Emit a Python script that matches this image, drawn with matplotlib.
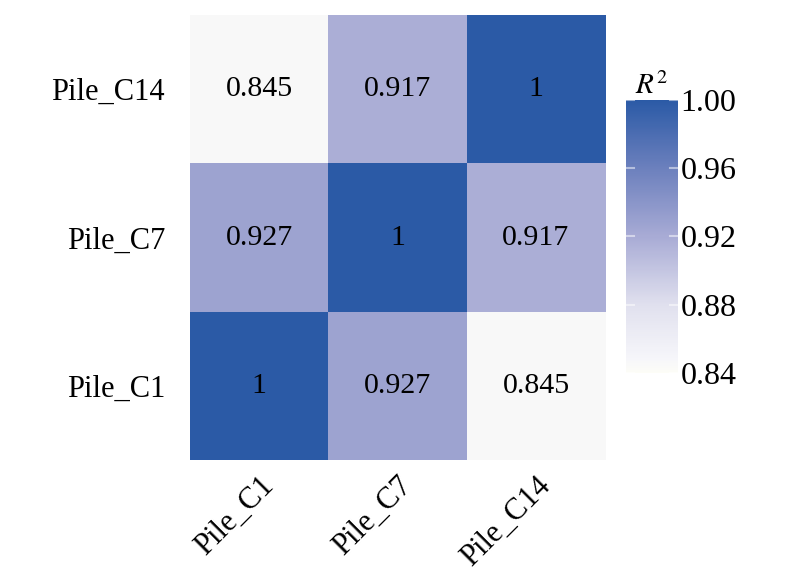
import matplotlib.pyplot as plt
import numpy as np
from matplotlib.colors import LinearSegmentedColormap

plt.rcParams['font.family'] = ['Liberation Serif', 'DejaVu Serif']
plt.rcParams['mathtext.fontset'] = 'stix'

piles = ["Pile_C1", "Pile_C7", "Pile_C14"]
r2 = np.array([[1.0, 0.927, 0.845],
               [0.927, 1.0, 0.917],
               [0.845, 0.917, 1.0]])
labels = [["1", "0.927", "0.845"],
          ["0.927", "1", "0.917"],
          ["0.845", "0.917", "1"]]
cbar_ticks = [0.84, 0.88, 0.92, 0.96, 1.00]

cmap = LinearSegmentedColormap.from_list(
    "r2", [(0.0, "#fdfdf7"), (0.05, "#f6f6fa"), (0.25, "#e0e0ee"), (0.5, "#a8abd5"),
           (0.75, "#6c80bd"), (1.0, "#2b5aa6")])

fig = plt.figure(figsize=(7.9, 5.81), dpi=100)
ax = fig.add_axes([0.2405, 0.208, 0.5255, 0.766])
im = ax.imshow(r2, cmap=cmap, vmin=0.84, vmax=1.0, origin="lower", aspect="auto")

for i in range(3):
    for j in range(3):
        ax.text(j, i, labels[i][j], ha="center", va="center", fontsize=21.5, color="black")

ax.set_xticks(range(3))
ax.set_yticks(range(3))
ax.set_xticklabels(piles, rotation=45, ha="right", rotation_mode="anchor", fontsize=22)
ax.set_yticklabels(piles, fontsize=22)
ax.tick_params(axis="x", length=0, pad=8)
ax.tick_params(axis="y", length=0, pad=18)
for s in ax.spines.values():
    s.set_visible(False)

cax = fig.add_axes([0.792, 0.358, 0.066, 0.47])
cb = fig.colorbar(im, cax=cax, ticks=cbar_ticks)
cb.outline.set_visible(False)
cb.ax.set_yticklabels(["%.2f" % t for t in cbar_ticks], fontsize=23)
cb.ax.tick_params(length=0, pad=2)
for t in cbar_ticks:
    cax.plot([0, 0.15], [t, t], color="white", lw=1.5, alpha=0.5)
    cax.plot([0.85, 1], [t, t], color="white", lw=1.5, alpha=0.5)
cax.set_xlim(0, 1)
cax.set_title(r"$R^2$", fontsize=21, pad=2)

fig.savefig("out.png", dpi=100)
